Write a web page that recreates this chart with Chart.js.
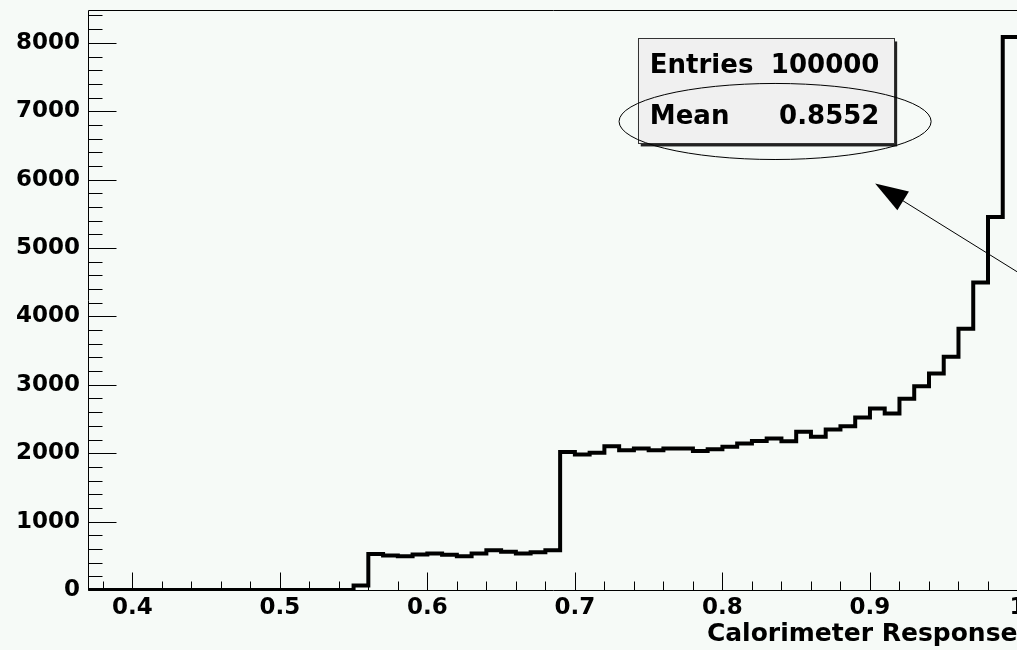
<!DOCTYPE html>
<html><head><meta charset="utf-8">
<script src="https://cdn.jsdelivr.net/npm/chart.js@4.4.1/dist/chart.umd.min.js"></script>
<style>
html,body{margin:0;padding:0;background:#f6faf7;overflow:hidden;width:1017px;height:650px}
#wrap{position:absolute;left:0;top:0;width:1060px;height:650px}
canvas{display:block}
</style></head><body>
<div id="wrap"><canvas id="c" width="1060" height="650"></canvas></div>
<script>
// ---- data ----
const binEdges = [0.37,0.38,0.39,0.40,0.41,0.42,0.43,0.44,0.45,0.46,0.47,0.48,0.49,0.50,0.51,0.52,0.53,0.54,0.55,0.56,0.57,0.58,0.59,0.60,0.61,0.62,0.63,0.64,0.65,0.66,0.67,0.68,0.69,0.70,0.71,0.72,0.73,0.74,0.75,0.76,0.77,0.78,0.79,0.80,0.81,0.82,0.83,0.84,0.85,0.86,0.87,0.88,0.89,0.90,0.91,0.92,0.93,0.94,0.95,0.96,0.97,0.98,0.99,1.00];
const counts = [0,0,0,0,0,0,0,0,0,0,0,0,0,0,0,0,0,0,
  65,
  528,504,494,519,534,514,494,534,582,558,534,553,582,
  2019,1981,2005,2103,2044,2069,2044,2069,2069,2034,2059,2093,2142,2180,2215,2176,
  2312,2239,2346,2395,2522,2653,2580,2795,2980,3165,3409,3820,4496,5455,8087];
const xTickValues = [0.4,0.5,0.6,0.7,0.8,0.9,1.0];
const xTickLabels = ['0.4','0.5','0.6','0.7','0.8','0.9','1'];
const yTickValues = [0,1000,2000,3000,4000,5000,6000,7000,8000];
const yTickLabels = ['0','1000','2000','3000','4000','5000','6000','7000','8000'];
const xTitle = 'Calorimeter Response';
const statsNames = ['Entries','Mean'];
const statsValues = ['100000','0.8552'];

const BG = '#f6faf7';
const FONT = '"DejaVu Sans", sans-serif';

const histPoints = counts.map((c, i) => ({x: binEdges[i], y: c}))
  .concat([{x: binEdges[binEdges.length - 1], y: counts[counts.length - 1]}]);

const rootPlugin = {
  id: 'rootStyle',
  beforeDraw(chart) {
    const {ctx, width, height} = chart;
    ctx.save(); ctx.fillStyle = BG; ctx.fillRect(0, 0, width, height); ctx.restore();
  },
  afterDraw(chart) {
    const {ctx, chartArea: a, scales: {x, y}} = chart;
    ctx.save();
    ctx.strokeStyle = '#000'; ctx.lineWidth = 1;
    const L = Math.round(a.left) + 0.5, T = Math.round(a.top) + 0.5;
    const R = Math.round(a.right) + 0.5, B = Math.round(a.bottom) + 0.5;
    ctx.beginPath();
    ctx.moveTo(L, B); ctx.lineTo(L, T); ctx.lineTo(R, T); ctx.lineTo(R, B); ctx.lineTo(L, B);
    // y ticks (inside)
    for (let k = 0; k * 200 <= y.max; k++) {
      const py = Math.round(y.getPixelForValue(k * 200)) + 0.5;
      const len = (k % 5 === 0) ? 28 : 14;
      ctx.moveTo(L, py); ctx.lineTo(L + len, py);
    }
    // x ticks (inside)
    for (let k = 19; k <= 50; k++) {
      const px = Math.round(x.getPixelForValue(k * 0.02)) + 0.5;
      const len = (k % 5 === 0) ? 18 : 9;
      ctx.moveTo(px, B); ctx.lineTo(px, B - len);
    }
    ctx.stroke();

    // stats box
    const bx0 = x.getPixelForValue(0.7426), bx1 = x.getPixelForValue(0.9164);
    const by0 = y.getPixelForValue(8064), by1 = y.getPixelForValue(6529);
    ctx.fillStyle = '#222';
    ctx.fillRect(bx0 + 3, by0 + 3, bx1 - bx0, by1 - by0);
    ctx.fillStyle = '#f0f0f0';
    ctx.fillRect(bx0, by0, bx1 - bx0, by1 - by0);
    ctx.strokeStyle = '#333';
    ctx.strokeRect(Math.round(bx0) + 0.5, Math.round(by0) + 0.5, Math.round(bx1 - bx0), Math.round(by1 - by0));
    ctx.fillStyle = '#000';
    ctx.font = 'bold 26px ' + FONT;
    ctx.textBaseline = 'middle';
    const rowY = [y.getPixelForValue(7659), y.getPixelForValue(6906)];
    const tl = x.getPixelForValue(0.7508), tr = x.getPixelForValue(0.9064);
    for (let i = 0; i < statsNames.length; i++) {
      ctx.textAlign = 'left'; ctx.fillText(statsNames[i], tl, rowY[i]);
      ctx.textAlign = 'right'; ctx.fillText(statsValues[i], tr, rowY[i]);
    }

    // ellipse
    const ecx = x.getPixelForValue(0.8357), ecy = y.getPixelForValue(6850);
    const erx = x.getPixelForValue(0.8357 + 0.10576) - ecx;
    const ery = y.getPixelForValue(6850 - 556) - ecy;
    ctx.strokeStyle = '#000'; ctx.lineWidth = 1;
    ctx.beginPath(); ctx.ellipse(ecx, ecy, erx, ery, 0, 0, Math.PI * 2); ctx.stroke();

    // arrow
    const tipX = x.getPixelForValue(0.9035), tipY = y.getPixelForValue(5944);
    const tailX = x.getPixelForValue(1.06), tailY = y.getPixelForValue(3844);
    const dx = tailX - tipX, dy = tailY - tipY, d = Math.hypot(dx, dy);
    const ux = dx / d, uy = dy / d;
    const hl = 33, hw = 11;
    ctx.beginPath(); ctx.moveTo(tipX + ux * hl * 0.8, tipY + uy * hl * 0.8); ctx.lineTo(tailX, tailY); ctx.stroke();
    ctx.beginPath();
    ctx.moveTo(tipX, tipY);
    ctx.lineTo(tipX + ux * hl - uy * hw, tipY + uy * hl + ux * hw);
    ctx.lineTo(tipX + ux * hl + uy * hw, tipY + uy * hl - ux * hw);
    ctx.closePath(); ctx.fillStyle = '#000'; ctx.fill();
    ctx.restore();
  }
};

new Chart(document.getElementById('c'), {
  type: 'line',
  data: {
    datasets: [{
      data: histPoints,
      stepped: true,
      borderColor: '#000',
      borderWidth: 4,
      pointRadius: 0,
      fill: false,
      tension: 0
    }]
  },
  options: {
    responsive: false,
    animation: false,
    devicePixelRatio: 1,
    layout: {padding: {top: 10, right: 42.5, left: 0, bottom: 0}},
    plugins: {legend: {display: false}, tooltip: {enabled: false}},
    events: [],
    scales: {
      x: {
        type: 'linear', min: 0.37, max: 1.0,
        afterBuildTicks: s => { s.ticks = xTickValues.map(v => ({value: v})); },
        afterFit: s => { s.height = 60; s.paddingLeft = 0; s.paddingRight = 0; },
        grid: {display: false, drawTicks: false},
        border: {display: false},
        ticks: {
          autoSkip: false, maxRotation: 0, padding: 4, color: '#000',
          font: {family: FONT, size: 23, weight: 'bold'},
          callback: (v, i) => xTickLabels[i]
        },
        title: {
          display: true, text: xTitle, align: 'end', color: '#000',
          font: {family: FONT, size: 25, weight: 'bold'},
          padding: {top: 0, bottom: 1}
        }
      },
      y: {
        type: 'linear', min: 0, max: 8480,
        afterBuildTicks: s => { s.ticks = yTickValues.map(v => ({value: v})); },
        afterFit: s => { s.width = 88; s.paddingTop = 0; s.paddingBottom = 0; },
        grid: {display: false, drawTicks: false},
        border: {display: false},
        ticks: {
          padding: 8, color: '#000',
          font: {family: FONT, size: 23, weight: 'bold'},
          callback: (v, i) => yTickLabels[i]
        }
      }
    }
  },
  plugins: [rootPlugin]
});
</script>
</body></html>
